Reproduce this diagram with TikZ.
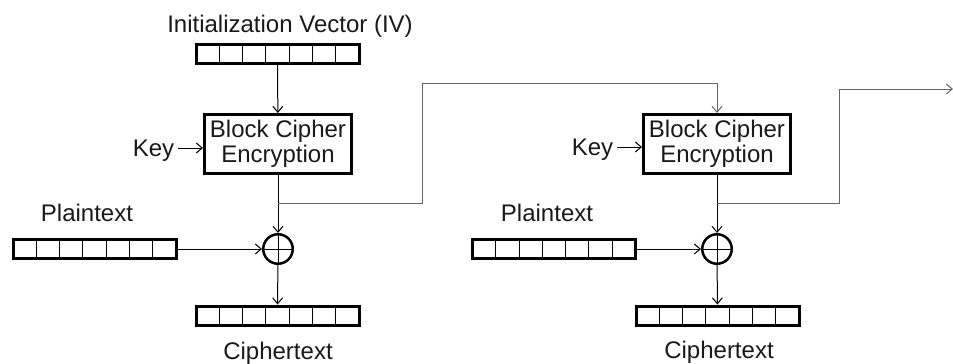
\documentclass[tikz,border=0pt]{standalone}
\usepackage{fontspec}
\setmainfont{Liberation Sans}
\usetikzlibrary{arrows.meta,calc}
\tikzset{
  lbl/.style={text height=17pt,text depth=0pt},
  reg/.style={draw,line width=3pt,minimum width=163pt,minimum height=19pt,inner sep=0pt,
    path picture={\foreach \i in {1,...,6}
      \draw [line width=1pt] ($(path picture bounding box.north west)!\i/7!(path picture bounding box.north east)$)
        -- ($(path picture bounding box.south west)!\i/7!(path picture bounding box.south east)$);}},
  enc/.style={draw,line width=3pt,minimum width=147pt,minimum height=59pt,align=center,inner sep=0pt},
  xor/.style={draw,circle,line width=2.5pt,minimum size=29.5pt,inner sep=0pt,
    path picture={\draw [line width=1pt] (path picture bounding box.north) -- (path picture bounding box.south)
      (path picture bounding box.west) -- (path picture bounding box.east);}},
  feed/.style={black!60,line width=1pt}
}
\begin{document}
\begin{tikzpicture}[x=1pt,y=-1pt,font=\fontsize{24}{25}\selectfont,text=black!90,
  line width=1pt,>={Straight Barb[length=6pt,width=10pt]}]
\useasboundingbox (0,0) rectangle (953,364);
\node [lbl] (ivlabel) at (290,23.5) {Initialization Vector (IV)};
\node [reg] (iv) at (277.5,54) {};
\node [enc] (enc1) at (278,144) {Block Cipher\\Encryption};
\node [lbl] (key1) at (153.5,148) {Key};
\node [lbl] (ptlabel1) at (87,213) {Plaintext};
\node [reg] (pt1) at (94.5,249) {};
\node [xor] (xor1) at (278,249) {};
\node [reg] (ct1) at (277.5,315.5) {};
\node [lbl] (ctlabel1) at (278,351) {Ciphertext};
\coordinate (s1) at (278,203);
\draw [->] (iv) -- (enc1);
\draw [->] (key1) -- (key1 -| enc1.west);
\draw [->] (enc1) -- (xor1);
\draw [->] (pt1) -- (xor1);
\draw [->] (xor1) -- (ct1);
\node [enc] (enc2) at (717,144) {Block Cipher\\Encryption};
\node [lbl] (key2) at (592.5,147) {Key};
\node [lbl] (ptlabel2) at (547,213) {Plaintext};
\node [reg] (pt2) at (554,249) {};
\node [xor] (xor2) at (717,249) {};
\node [reg] (ct2) at (717.5,315.5) {};
\node [lbl] (ctlabel2) at (719,350) {Ciphertext};
\coordinate (s2) at (717,203);
\coordinate (out) at (953,89);
\draw [feed,->] (s1) -- (422,203) -- (422,83) -| (enc2);
\draw [->] (key2) -- (key2 -| enc2.west);
\draw [->] (enc2) -- (xor2);
\draw [->] (pt2) -- (xor2);
\draw [->] (xor2) -- (ct2);
\draw [feed,->] (s2) -- (839,203) -- (839,89) -- (out);
\end{tikzpicture}
\end{document}
